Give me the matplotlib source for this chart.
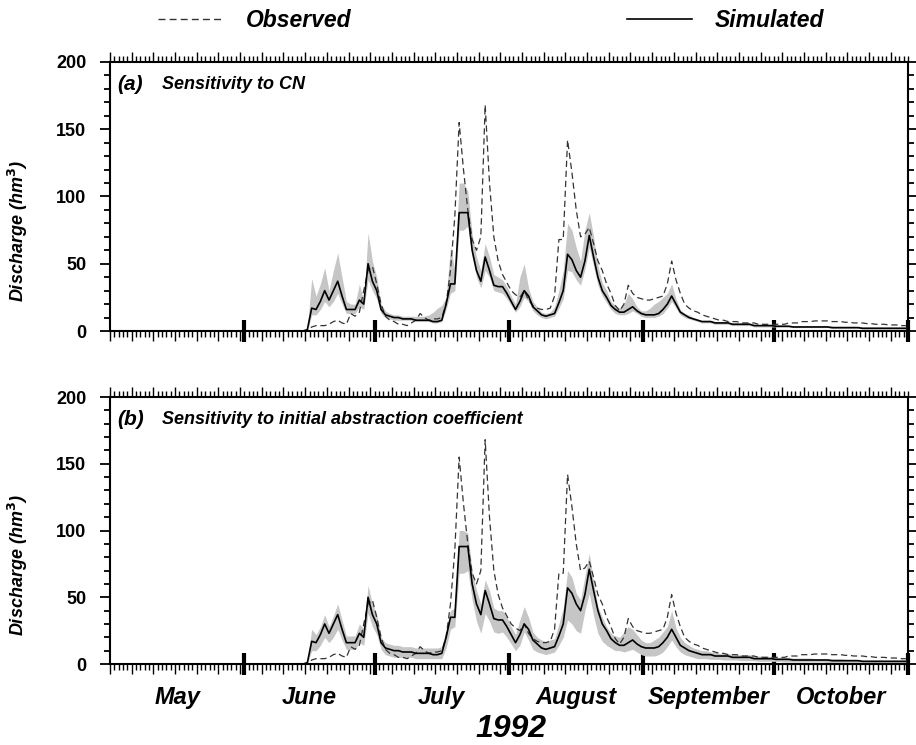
import numpy as np
import matplotlib
matplotlib.use('Agg')
import matplotlib.pyplot as plt
from matplotlib.lines import Line2D
from matplotlib.ticker import MultipleLocator, FixedLocator

plt.rcParams['font.family'] = 'Liberation Sans'

# daily discharge (hm3), 1 May - 31 Oct 1992; flows are zero before 15 June
n_days = 184
start = 45  # 15 June

obs = [0, 3, 4, 4, 4, 5, 7, 8, 6, 5,
       13, 11, 14, 30, 45, 48, 35, 20, 11, 8,
       7, 5, 5, 4, 6, 8, 13, 10, 8, 9,
       9, 10, 20, 45, 85, 155, 120, 90, 68, 60,
       70, 168, 110, 70, 52, 42, 36, 30, 27, 25,
       30, 23, 19, 17, 16, 16, 17, 26, 68, 68,
       142, 118, 90, 70, 72, 77, 65, 52, 45, 35,
       28, 19, 15, 20, 34, 28, 25, 24, 23, 23,
       24, 25, 26, 35, 52, 38, 28, 20, 17, 15,
       14, 12, 11, 10, 9, 8, 8, 7, 7, 7,
       6, 6, 6, 6, 5, 5, 5, 5, 5, 5,
       5, 6, 6, 6, 7, 7, 7, 7.5, 7.5, 7.5,
       7.5, 7, 7, 7, 6.5, 6.5, 6, 6, 6, 5.5,
       5.5, 5, 5, 5, 4.5, 4.5, 4.5, 4, 4]

sim = [1, 17, 16, 22, 30, 23, 30, 37, 26, 16,
       16, 16, 23, 20, 50, 37, 30, 16, 12, 11,
       10, 10, 9, 9, 9, 8, 8, 8, 8, 7,
       7, 8, 20, 35, 35, 88, 88, 88, 60, 45,
       37, 55, 45, 34, 33, 33, 28, 22, 16, 22,
       30, 26, 18, 15, 12, 11, 12, 13, 21, 30,
       57, 53, 45, 40, 52, 71, 55, 40, 30, 25,
       19, 16, 14, 14, 16, 18, 15, 13, 12, 12,
       12, 13, 16, 20, 26, 20, 14, 12, 10, 9,
       8, 7, 7, 7, 6, 6, 6, 6, 5, 5,
       5, 5, 5, 4, 4, 4, 4, 4, 3.5, 3.5,
       3.5, 3.5, 3, 3, 3, 3, 3, 3, 3, 3,
       3, 2.5, 2.5, 2.5, 2.5, 2.5, 2.5, 2.5, 2, 2,
       2, 2, 2, 2, 2, 2, 2, 2, 2]

# sensitivity envelope, CN
hi_a = [2, 39, 26, 35, 47, 30, 45, 58, 40, 22,
        20, 20, 35, 22, 73, 52, 40, 20, 15, 13,
        12, 12, 11, 11, 11, 11, 11, 11, 12, 14,
        17, 19, 25, 63, 45, 110, 110, 104, 72, 55,
        45, 65, 55, 42, 40, 38, 33, 26, 20, 40,
        50, 32, 22, 18, 14, 13, 14, 18, 30, 45,
        80, 75, 62, 52, 75, 88, 70, 48, 36, 30,
        22, 19, 17, 20, 28, 24, 18, 15, 15, 17,
        20, 22, 25, 28, 35, 24, 16, 13, 12, 10,
        9, 8, 8, 8, 7, 7, 7, 7, 6, 6,
        6, 6, 6, 5, 5, 5, 5, 5, 4.5, 4.5,
        4.5, 4.5, 4, 4, 4, 4, 4, 4, 4, 4,
        4, 3.5, 3.5, 3.5, 3.5, 3.5, 3.5, 3.5, 3, 3,
        3, 3, 3, 3, 3, 3, 3, 3, 3]
lo_a = [0, 12, 12, 16, 22, 18, 22, 28, 20, 13,
        13, 13, 18, 16, 38, 30, 24, 13, 10, 9,
        8, 8, 8, 8, 8, 7, 7, 7, 7, 6,
        6, 7, 16, 28, 30, 75, 75, 78, 55, 40,
        32, 45, 40, 30, 29, 28, 24, 19, 14, 18,
        25, 22, 15, 12, 10, 9, 10, 11, 17, 24,
        45, 44, 38, 34, 46, 62, 48, 34, 26, 21,
        16, 13, 12, 12, 13, 15, 13, 11, 10, 10,
        10, 11, 13, 17, 22, 17, 12, 10, 9, 8,
        7, 6, 6, 6, 5, 5, 5, 5, 4, 4,
        4, 4, 4, 3, 3, 3, 3, 3, 3, 3,
        3, 3, 2.5, 2.5, 2.5, 2.5, 2.5, 2.5, 2.5, 2.5,
        2.5, 2, 2, 2, 2, 2, 2, 2, 1.5, 1.5,
        1.5, 1.5, 1.5, 1.5, 1.5, 1.5, 1.5, 1.5, 1.5]

# sensitivity envelope, initial abstraction coefficient
hi_b = [2, 26, 22, 28, 37, 28, 36, 45, 33, 21,
        21, 21, 30, 26, 59, 45, 37, 20, 16, 15,
        14, 14, 13, 13, 13, 12, 12, 12, 12, 12,
        12, 13, 26, 40, 42, 100, 100, 98, 70, 55,
        45, 63, 55, 42, 40, 40, 35, 28, 22, 33,
        43, 35, 24, 20, 18, 17, 18, 19, 30, 42,
        70, 65, 53, 48, 66, 83, 62, 43, 35, 28,
        23, 21, 20, 24, 28, 26, 22, 18, 16, 16,
        18, 20, 24, 28, 40, 27, 20, 16, 14, 12,
        11, 10, 10, 9, 9, 8, 8, 8, 7, 7,
        7, 7, 7, 6, 6, 6, 6, 5.5, 5, 5,
        5, 5, 4.5, 4.5, 4.5, 4.5, 4.5, 4, 4, 4,
        4, 4, 4, 4, 3.5, 3.5, 3.5, 3.5, 3, 3,
        3, 3, 3, 3, 3, 3, 3, 3, 3]
lo_b = [0, 10, 10, 14, 20, 16, 20, 26, 18, 11,
        11, 11, 16, 14, 38, 28, 22, 11, 7, 6,
        5, 5, 5, 5, 5, 4, 4, 4, 4, 4,
        4, 4, 12, 26, 28, 68, 68, 70, 48, 32,
        23, 38, 32, 24, 23, 24, 20, 15, 10, 14,
        24, 18, 11, 9, 8, 7, 8, 9, 14, 20,
        33, 30, 25, 23, 40, 53, 36, 23, 17, 14,
        12, 10, 10, 9, 10, 11, 9, 7, 6, 6,
        6, 7, 9, 13, 18, 13, 9, 7, 6, 5,
        4, 4, 4, 3.5, 3.5, 3.5, 3, 3, 3, 3,
        2.5, 2.5, 2.5, 2.5, 2, 2, 2, 2, 2, 2,
        1.5, 1.5, 1.5, 1.5, 1.5, 1.5, 1.5, 1.5, 1.5, 1.5,
        1, 1, 1, 1, 1, 1, 1, 1, 1, 1,
        1, 1, 1, 1, 1, 1, 1, 1, 1]

months = ['May', 'June', 'July', 'August', 'September', 'October']
month_len = [31, 30, 31, 31, 30, 31]
panel_tags = ['(a)', '(b)']
panel_titles = ['Sensitivity to CN', 'Sensitivity to initial abstraction coefficient']


def full(v):
    # prepend the dry days (zero flow) before 15 June
    return np.concatenate([np.zeros(start), np.array(v, dtype=float)])


x = np.arange(n_days) + 0.5
month_edges = np.cumsum(month_len)
month_mid = month_edges - np.array(month_len) / 2.0

fig = plt.figure(figsize=(9.16, 7.45), dpi=100)
ax_a = fig.add_axes([0.1201, 0.5557, 0.8712, 0.3611])
ax_b = fig.add_axes([0.1201, 0.1087, 0.8712, 0.3584])

bands = [(lo_a, hi_a), (lo_b, hi_b)]
for k, ax in enumerate([ax_a, ax_b]):
    lo, hi = bands[k]
    ax.fill_between(x, full(lo), full(hi), color='#c6c6c6', lw=0, zorder=1)
    ax.plot(x, full(obs), color='#333333', lw=0.9, ls=(0, (5, 3)), zorder=2)
    ax.plot(x, full(sim), color='black', lw=1.2, zorder=3)

    ax.set_xlim(0, n_days)
    ax.set_ylim(0, 200)
    for s in ax.spines.values():
        s.set_linewidth(1.5)

    # y ticks
    ax.yaxis.set_major_locator(MultipleLocator(50))
    ax.yaxis.set_minor_locator(MultipleLocator(10))
    ax.tick_params(axis='y', which='both', direction='out', left=True, right=True, width=1.3)
    ax.tick_params(axis='y', which='major', length=7, labelsize=13, pad=10)
    ax.tick_params(axis='y', which='minor', length=4)
    for lab in ax.get_yticklabels():
        lab.set_fontweight('bold')

    # x ticks: daily, longer every 5 days
    ax.xaxis.set_major_locator(FixedLocator(np.arange(0, n_days + 1, 5)))
    ax.xaxis.set_minor_locator(MultipleLocator(1))
    ax.tick_params(axis='x', which='both', direction='out', top=True, bottom=True,
                   labelbottom=False, width=1.0)
    ax.tick_params(axis='x', which='major', length=7)
    ax.tick_params(axis='x', which='minor', length=4)

    # thick month marks
    marks = ax.secondary_xaxis('bottom')
    marks.set_xticks(month_edges)
    marks.tick_params(direction='inout', length=16, width=3, labelbottom=False)
    marks.spines['bottom'].set_visible(False)

    ax.set_ylabel('Discharge (hm$^\\mathbf{3}$)', fontsize=13, fontweight='bold',
                  fontstyle='italic')
    ax.yaxis.set_label_coords(-0.1, 0.37)
    ax.text(0.009, 0.915, panel_tags[k], transform=ax.transAxes, fontsize=15,
            fontweight='bold', fontstyle='italic', va='center')
    ax.text(0.065, 0.915, panel_titles[k], transform=ax.transAxes, fontsize=13,
            fontweight='bold', fontstyle='italic', va='center')

# month names under the lower panel
names = ax_b.secondary_xaxis('bottom')
names.set_xticks(month_mid)
names.set_xticklabels(months, fontsize=17, fontweight='bold', fontstyle='italic')
names.tick_params(length=0, pad=16)
names.spines['bottom'].set_visible(False)

fig.text(0.558, 0.022, '1992', ha='center', va='center', fontsize=23,
         fontweight='bold', fontstyle='italic')

handles = [Line2D([], [], color='#333333', lw=1.0, ls=(0, (5, 3))),
           Line2D([], [], color='black', lw=1.2)]
leg = fig.legend(handles, ['Observed', 'Simulated'], loc='center', ncol=2,
                 bbox_to_anchor=(0.536, 0.972), frameon=False,
                 prop={'size': 16.5, 'weight': 'bold', 'style': 'italic'},
                 handlelength=2.85, handletextpad=1.0, columnspacing=12.0)

fig.savefig('out.png', dpi=100)
